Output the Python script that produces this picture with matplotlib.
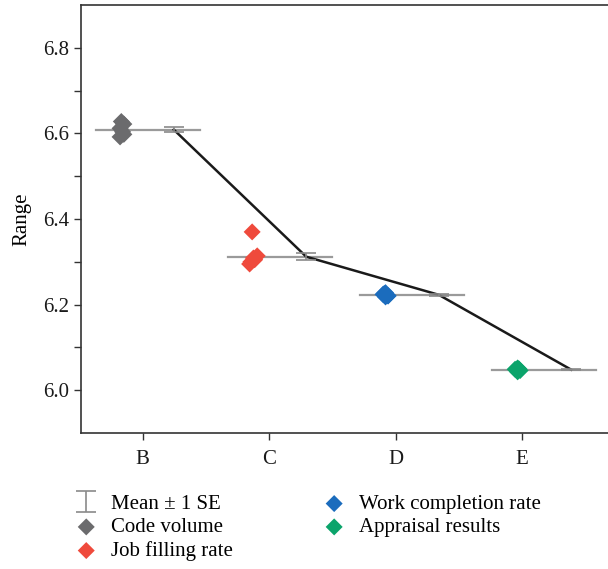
import numpy as np
import matplotlib
matplotlib.use("Agg")
import matplotlib.pyplot as plt

plt.rcParams['font.family'] = ['Liberation Serif', 'DejaVu Serif']

categories = ['B', 'C', 'D', 'E']
series = ['Code volume', 'Job filling rate', 'Work completion rate', 'Appraisal results']
colors = ['#6b6b6d', '#ef4a3c', '#1b6cbd', '#0ba46b']

# individual points per group
pts_B = [6.628, 6.622, 6.612, 6.604, 6.592, 6.598]
pts_C = [6.370, 6.314, 6.309, 6.305, 6.300, 6.295]
pts_D = [6.228, 6.224, 6.221, 6.218, 6.226, 6.220]
pts_E = [6.052, 6.049, 6.046, 6.043, 6.050]
points = [pts_B, pts_C, pts_D, pts_E]
jitter_B = [0.0, 0.02, -0.01, 0.01, -0.01, 0.02]
jitter_C = [-0.01, 0.03, 0.0, 0.01, -0.02, -0.03]
jitter_D = [0.0, -0.02, 0.02, 0.0, -0.01, 0.02]
jitter_E = [0.0, -0.02, 0.02, 0.0, 0.01]
jitters = [jitter_B, jitter_C, jitter_D, jitter_E]

means = [6.609, 6.312, 6.223, 6.048]
se = [0.006, 0.008, 0.002, 0.001]

x = np.arange(len(categories))
fig = plt.figure(figsize=(6.08, 5.69), dpi=100)
ax = fig.add_axes([0.133, 0.239, 0.867, 0.752])

# mean lines
for i in range(len(categories)):
    xc = x[i] + 0.04 + 0.045 * i
    ax.plot([xc - 0.41, xc + 0.41], [means[i], means[i]], color='#9a9a9a', lw=1.6, zorder=1)

# points
for i in range(len(categories)):
    xs = x[i] - 0.17 + 0.045 * i + np.array(jitters[i])
    ax.scatter(xs, points[i], marker='D', s=75, color=colors[i], edgecolors='none',
               label=series[i], zorder=3)

# error bars and connecting line
xe = x + 0.245 + 0.048 * x
ax.plot(xe, means, color='#1a1a1a', lw=1.8, zorder=2)
eb = ax.errorbar(xe, means, yerr=se, fmt='none', ecolor='#8a8a8a', elinewidth=1.2,
                 capsize=7, capthick=1.2, label='Mean \u00b1 1 SE', zorder=2)

ax.set_xlim(-0.49, 3.68)
ax.set_ylim(5.9, 6.9)
ax.set_xticks(x)
ax.set_xticklabels(categories)
ax.set_yticks([6.0, 6.2, 6.4, 6.6, 6.8])
ax.set_yticks([6.1, 6.3, 6.5, 6.7], minor=True)
ax.yaxis.set_major_formatter(matplotlib.ticker.FormatStrFormatter('%.1f'))
ax.tick_params(axis='both', direction='out', length=5, width=1, labelsize=15,
               color='#333333', labelcolor='#1a1a1a')
ax.tick_params(axis='y', which='minor', direction='out', length=5, width=1, color='#333333')
ax.tick_params(axis='x', pad=7)
ax.spines['right'].set_visible(False)
for s in ['left', 'top', 'bottom']:
    ax.spines[s].set_linewidth(1.2)
    ax.spines[s].set_color('#333333')
ax.set_ylabel('Range', fontsize=15, labelpad=8)

handles, labels = ax.get_legend_handles_labels()
order = [labels.index('Mean \u00b1 1 SE')] + [labels.index(s) for s in series]
fig.legend([handles[k] for k in order], [labels[k] for k in order],
           loc='upper left', bbox_to_anchor=(0.123, 0.131), ncol=2, frameon=False,
           fontsize=15, handlelength=1.1, handletextpad=0.65, labelspacing=0.18,
           columnspacing=4.3, borderpad=0, borderaxespad=0)

fig.savefig('out.png', dpi=100)
